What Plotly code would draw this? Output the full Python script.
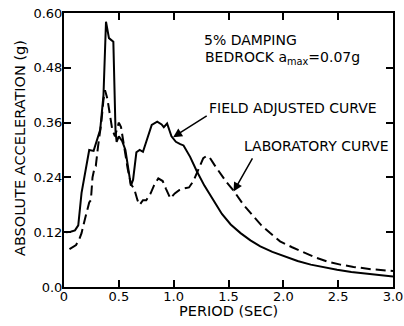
import plotly.graph_objects as go

field_period = [0.02, 0.06, 0.10, 0.13, 0.16, 0.19, 0.23, 0.27, 0.30, 0.33, 0.36, 0.383, 0.41, 0.45,
                0.47, 0.48, 0.50, 0.53, 0.56, 0.61, 0.63, 0.66, 0.69, 0.72, 0.75, 0.80, 0.85, 0.89,
                0.91, 0.94, 0.98, 1.02, 1.06, 1.09, 1.15, 1.21, 1.28, 1.36, 1.44, 1.52, 1.61, 1.70,
                1.79, 1.90, 2.02, 2.13, 2.25, 2.37, 2.49, 2.62, 2.76, 2.88, 3.0]
field_accel = [0.120, 0.121, 0.124, 0.135, 0.206, 0.250, 0.300, 0.298, 0.320, 0.344, 0.420, 0.581, 0.545, 0.537,
               0.340, 0.318, 0.330, 0.320, 0.300, 0.222, 0.235, 0.295, 0.300, 0.296, 0.318, 0.355, 0.362, 0.356,
               0.350, 0.358, 0.330, 0.318, 0.313, 0.310, 0.285, 0.254, 0.222, 0.190, 0.160, 0.137, 0.118, 0.102,
               0.089, 0.077, 0.067, 0.057, 0.049, 0.043, 0.038, 0.033, 0.029, 0.026, 0.023]

lab_period = [0.05, 0.08, 0.11, 0.14, 0.16, 0.19, 0.21, 0.23, 0.245, 0.26, 0.28, 0.29, 0.31, 0.34, 0.36,
              0.374, 0.395, 0.42, 0.44, 0.465, 0.48, 0.50, 0.52, 0.55, 0.58, 0.61, 0.64, 0.67, 0.69,
              0.72, 0.75, 0.79, 0.82, 0.86, 0.90, 0.93, 0.97, 1.01, 1.05, 1.10, 1.14, 1.18, 1.23, 1.27,
              1.30, 1.33, 1.37, 1.42, 1.48, 1.55, 1.63, 1.73, 1.80, 1.88, 1.97, 2.08, 2.19, 2.30, 2.40,
              2.52, 2.64, 2.80, 3.0]
lab_accel = [0.083, 0.087, 0.092, 0.105, 0.118, 0.148, 0.169, 0.185, 0.190, 0.240, 0.263, 0.265, 0.307, 0.360, 0.410,
             0.431, 0.413, 0.380, 0.345, 0.330, 0.345, 0.360, 0.350, 0.300, 0.260, 0.225, 0.215, 0.190, 0.180,
             0.190, 0.190, 0.205, 0.222, 0.238, 0.232, 0.215, 0.194, 0.205, 0.212, 0.216, 0.218, 0.232, 0.262, 0.282,
             0.287, 0.283, 0.268, 0.250, 0.230, 0.210, 0.182, 0.154, 0.135, 0.118, 0.100, 0.087, 0.075, 0.064, 0.056,
             0.049, 0.044, 0.039, 0.035]

x_tick_vals = [0, 0.5, 1.0, 1.5, 2.0, 2.5, 3.0]
x_tick_text = ["0", "0.5", "1.0", "1.5", "2.0", "2.5", "3.0"]
y_tick_vals = [0.0, 0.12, 0.24, 0.36, 0.48, 0.60]
y_tick_text = ["0.0", "0.12", "0.24", "0.36", "0.48", "0.60"]

FONT = "DejaVu Sans"

fig = go.Figure()
fig.add_trace(go.Scatter(x=field_period, y=field_accel, mode="lines",
                         line=dict(color="black", width=2), showlegend=False))
fig.add_trace(go.Scatter(x=lab_period, y=lab_accel, mode="lines",
                         line=dict(color="black", width=2, dash="10px,5px"), showlegend=False))

axis_common = dict(showline=True, linecolor="black", linewidth=2, mirror="ticks",
                   ticks="inside", ticklen=7, tickwidth=1.5, tickcolor="black",
                   showgrid=False, zeroline=False, automargin=False,
                   ticklabeloverflow="allow",
                   tickfont=dict(family=FONT, size=13, color="black"))

fig.update_xaxes(range=[0, 3.0], tickvals=x_tick_vals, ticktext=x_tick_text,
                 ticklabelstandoff=-4, **axis_common)
fig.update_yaxes(range=[0, 0.60], tickvals=y_tick_vals, ticktext=y_tick_text,
                 ticklabelstandoff=-3, **axis_common)

txt = dict(family=FONT, size=14, color="black")
annotations = [
    dict(x=0.5, y=-0.086, xref="paper", yref="paper", text="PERIOD (SEC)", showarrow=False,
         xanchor="center", yanchor="middle", font=dict(family=FONT, size=14.5, color="black")),
    dict(x=-0.134, y=0.507, xref="paper", yref="paper", text="ABSOLUTE ACCELERATION (g)", showarrow=False,
         textangle=-90, xanchor="center", yanchor="middle", font=dict(family=FONT, size=14.5, color="black")),
    dict(x=1.26, y=0.541, xref="x", yref="y", text="5% DAMPING", showarrow=False,
         xanchor="left", yanchor="middle", font=txt),
    dict(x=1.27, y=0.502, xref="x", yref="y", text="BEDROCK a<sub>max</sub>=0.07g", showarrow=False,
         xanchor="left", yanchor="middle", font=txt),
    dict(x=1.306, y=0.392, xref="x", yref="y", text="FIELD ADJUSTED CURVE", showarrow=False,
         xanchor="left", yanchor="middle", font=txt),
    dict(x=1.625, y=0.309, xref="x", yref="y", text="LABORATORY CURVE", showarrow=False,
         xanchor="left", yanchor="middle", font=txt),
    dict(x=0.995, y=0.328, xref="x", yref="y", ax=1.315, ay=0.377, axref="x", ayref="y",
         text="", showarrow=True, arrowhead=2, arrowsize=1.2, arrowwidth=1.5, arrowcolor="black"),
    dict(x=1.546, y=0.209, xref="x", yref="y", ax=1.726, ay=0.285, axref="x", ayref="y",
         text="", showarrow=True, arrowhead=2, arrowsize=1.2, arrowwidth=1.5, arrowcolor="black"),
]

fig.update_layout(width=404, height=326, margin=dict(l=64, r=11, t=13, b=39),
                  paper_bgcolor="white", plot_bgcolor="white",
                  annotations=annotations, font=txt)

# remove the page's default 8px body margin so the figure fills the window exactly
fig.write_html("out.html", config={"displayModeBar": False},
               post_script="document.body.style.margin='0';document.body.style.overflow='hidden';")
